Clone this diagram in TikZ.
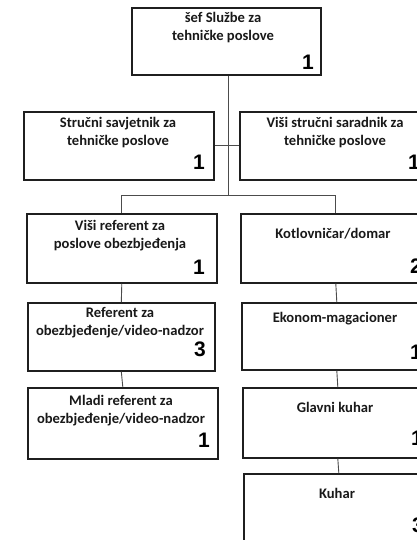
\documentclass[tikz,border=0pt]{standalone}
\usepackage{fontspec}
\setmainfont{Carlito}
\newfontfamily\numfont{Liberation Sans}
\begin{document}
\begin{tikzpicture}[x=1pt,y=-1pt,
  orgbox/.style={draw=black!88, line width=1.6pt, fill=white, minimum width=190pt, anchor=north west, inner sep=0pt},
  lbl/.style={anchor=north, inner sep=0pt, align=center, font=\fontsize{14.6}{18}\selectfont\bfseries, text=black!90},
  num/.style={anchor=base east, inner sep=0pt, font=\numfont\fontsize{21}{21}\selectfont\bfseries},
  conn/.style={draw=black!70, line width=0.9pt}]
\useasboundingbox (0,0) rectangle (417,540);
\fill[white] (0,0) rectangle (417,540);
\clip (0,0) rectangle (417,540);
% boxes
\node[orgbox, minimum width=189pt, minimum height=67pt] (b1) at (131,7) {};
\node[orgbox, minimum height=68pt] (b2) at (23,111) {};
\node[orgbox, minimum height=68pt] (b3) at (239,111) {};
\node[orgbox, minimum height=69pt] (b4) at (26,213) {};
\node[orgbox, minimum height=69pt] (b5) at (240,213) {};
\node[orgbox, minimum width=187pt, minimum height=68pt] (b6) at (27,302) {};
\node[orgbox, minimum height=67pt] (b7) at (241,302) {};
\node[orgbox, minimum width=190pt, minimum height=71pt] (b8) at (27,387) {};
\node[orgbox, minimum height=70pt] (b9) at (242,387) {};
\node[orgbox, minimum height=80pt] (b10) at (243,473) {};
% connectors
\coordinate (j1) at (228,195);
\coordinate (jl) at (b4.north |- j1);
\coordinate (jr) at (b5.north |- j1);
\draw[conn] (b1.south -| j1) -- (j1);
\draw[conn] (b2.east) -- (b3.west);
\draw[conn] (jl) -- (jr);
\draw[conn] (jl) -- (b4.north);
\draw[conn] (jr) -- (b5.north);
\draw[conn] (b4.south) -- (b6.north);
\draw[conn] (b5.south) -- (b7.north);
\draw[conn] (b6.south) -- (b8.north);
\draw[conn] (b7.south) -- (b9.north);
\draw[conn] (b9.south) -- (b10.north);
% labels
\node[lbl] (t1) at (223,10) {\strut šef Službe za\\tehničke poslove};
\node[lbl] (t2) at (118,115) {\strut Stručni savjetnik za\\tehničke poslove};
\node[lbl] (t3) at (335,115) {\strut Viši stručni saradnik za\\tehničke poslove};
\node[lbl] (t4) at (120,218) {\strut Viši referent za\\poslove obezbjeđenja};
\node[lbl] (t5) at (333,226) {\strut Kotlovničar/domar};
\node[lbl] (t6) at (120,305) {\strut Referent za\\obezbjeđenje/video-nadzor};
\node[lbl] (t7) at (335,310) {\strut Ekonom-magacioner};
\node[lbl] (t8) at (121,393) {\strut Mladi referent za\\obezbjeđenje/video-nadzor};
\node[lbl] (t9) at (335,400) {\strut Glavni kuhar};
\node[lbl] (t10) at (337,486) {\strut Kuhar};
% numbers
\node[num] (n1) at (314,70) {1};
\node[num] (n2) at (205,170) {1};
\node[num] (n3) at (420,170) {1};
\node[num] (n4) at (205,274) {1};
\node[num] (n5) at (422,273) {2};
\node[num] (n6) at (206,356) {3};
\node[num] (n7) at (422,359) {1};
\node[num] (n8) at (210,447) {1};
\node[num] (n9) at (423,445) {1};
\node[num] (n10) at (424,532) {3};
\end{tikzpicture}
\end{document}
